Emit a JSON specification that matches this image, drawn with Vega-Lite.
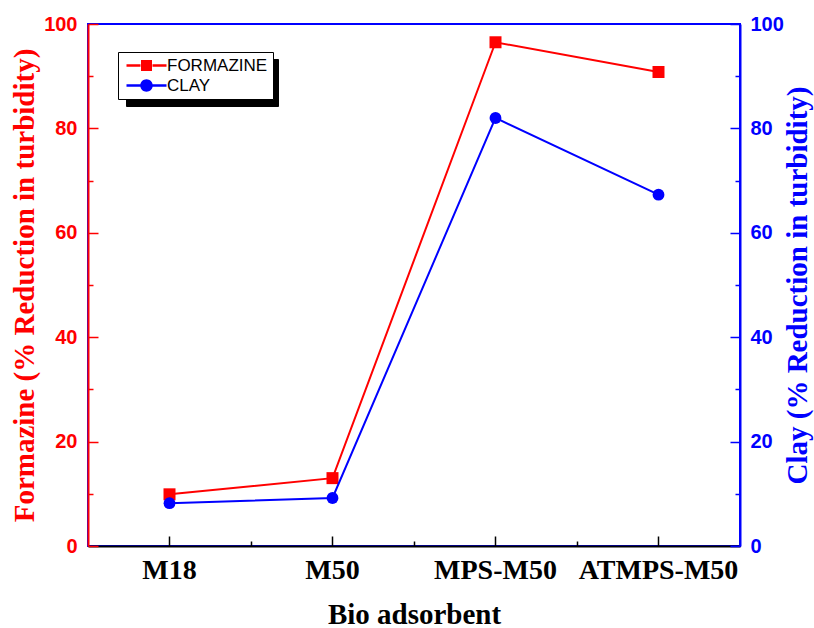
{
  "$schema": "https://vega.github.io/schema/vega-lite/v6.json",
  "width": 652,
  "height": 522,
  "autosize": {"type": "none"},
  "padding": {"left": 88, "top": 24, "right": 74, "bottom": 82},
  "background": "white",
  "config": {
    "view": {"stroke": "#0000ff", "strokeWidth": 2},
    "axis": {"grid": false}
  },
  "data": {
    "values": [
      {"adsorbent": "M18", "series": "FORMAZINE", "value": 9.9},
      {"adsorbent": "M50", "series": "FORMAZINE", "value": 13.0},
      {"adsorbent": "MPS-M50", "series": "FORMAZINE", "value": 96.5},
      {"adsorbent": "ATMPS-M50", "series": "FORMAZINE", "value": 90.8},
      {"adsorbent": "M18", "series": "CLAY", "value": 8.2},
      {"adsorbent": "M50", "series": "CLAY", "value": 9.2},
      {"adsorbent": "MPS-M50", "series": "CLAY", "value": 82.0},
      {"adsorbent": "ATMPS-M50", "series": "CLAY", "value": 67.3}
    ]
  },
  "layer": [
    {
      "transform": [{"filter": "datum.series === 'FORMAZINE'"}],
      "encoding": {
        "x": {
          "field": "adsorbent", "type": "nominal", "sort": null,
          "scale": {"type": "band", "paddingInner": 0, "paddingOuter": 0},
          "axis": {
            "orient": "bottom",
            "title": "Bio adsorbent",
            "titleFont": "Liberation Serif", "titleFontSize": 29, "titleFontWeight": "bold", "titleColor": "black",
            "titlePadding": 16,
            "labelFont": "Liberation Serif", "labelFontSize": 28, "labelFontWeight": "bold", "labelColor": "black",
            "labelAngle": 0, "labelPadding": 20,
            "domainColor": "black", "domainWidth": 2,
            "tickColor": "black", "tickWidth": 1.5, "tickSize": -10
          }
        },
        "y": {
          "field": "value", "type": "quantitative",
          "scale": {"domain": [0, 100], "nice": false},
          "axis": {
            "orient": "left",
            "values": [0, 10, 20, 30, 40, 50, 60, 70, 80, 90, 100],
            "labelExpr": "datum.value % 20 === 0 ? datum.label : ''",
            "title": "Formazine (% Reduction in turbidity)",
            "titleFont": "Liberation Serif", "titleFontSize": 29, "titleFontWeight": "bold", "titleColor": "#ff0000",
            "titlePadding": 4,
            "labelFont": "Liberation Sans", "labelFontSize": 20, "labelFontWeight": "bold", "labelColor": "#ff0000",
            "labelPadding": 21,
            "domainColor": "#ff0000", "domainWidth": 2,
            "tickColor": "#ff0000", "tickWidth": 1.5,
            "tickSize": {"condition": {"test": "datum.value % 20 !== 0", "value": -5}, "value": -10}
          }
        }
      },
      "layer": [
        {"mark": {"type": "line", "color": "#ff0000", "strokeWidth": 2}},
        {"mark": {"type": "point", "filled": true, "opacity": 1, "color": "#ff0000", "shape": "square", "size": 144}}
      ]
    },
    {
      "transform": [{"filter": "datum.series === 'CLAY'"}],
      "encoding": {
        "x": {
          "field": "adsorbent", "type": "nominal", "sort": null,
          "scale": {"type": "band", "paddingInner": 0, "paddingOuter": 0},
          "axis": {
            "orient": "bottom",
            "title": null, "labels": false, "domain": false,
            "bandPosition": 0,
            "tickSize": -5, "tickWidth": 1.5,
            "tickColor": {"condition": {"test": "datum.value === 'M18'", "value": "transparent"}, "value": "black"}
          }
        },
        "y": {
          "field": "value", "type": "quantitative",
          "scale": {"domain": [0, 100], "nice": false},
          "axis": {
            "orient": "right",
            "values": [0, 10, 20, 30, 40, 50, 60, 70, 80, 90, 100],
            "labelExpr": "datum.value % 20 === 0 ? datum.label : ''",
            "title": "Clay (% Reduction in turbidity)",
            "titleFont": "Liberation Serif", "titleFontSize": 29, "titleFontWeight": "bold", "titleColor": "#0000ff",
            "titleAngle": 270, "titlePadding": 29,
            "labelFont": "Liberation Sans", "labelFontSize": 20, "labelFontWeight": "bold", "labelColor": "#0000ff",
            "labelPadding": 20,
            "domainColor": "#0000ff", "domainWidth": 2,
            "tickColor": "#0000ff", "tickWidth": 1.5,
            "tickSize": {"condition": {"test": "datum.value % 20 !== 0", "value": -5}, "value": -10}
          }
        }
      },
      "layer": [
        {"mark": {"type": "line", "color": "#0000ff", "strokeWidth": 2}},
        {"mark": {"type": "point", "filled": true, "opacity": 1, "color": "#0000ff", "shape": "circle", "size": 140}}
      ]
    },
    {
      "mark": {"type": "point", "filled": true, "size": 0, "opacity": 1},
      "encoding": {
        "color": {
          "field": "series", "type": "nominal",
          "scale": {"domain": ["FORMAZINE", "CLAY"], "range": ["#ff0000", "#0000ff"]},
          "legend": {
            "title": null, "orient": "none", "legendX": 30, "legendY": 28, "zindex": 2,
            "strokeColor": "black", "fillColor": "white", "padding": 5,
            "symbolSize": 100, "symbolStrokeWidth": 0, "symbolOpacity": 1,
            "labelFont": "Liberation Sans", "labelFontSize": 17, "labelColor": "black",
            "labelOffset": 27, "rowPadding": 2
          }
        },
        "shape": {
          "field": "series", "type": "nominal",
          "scale": {
            "domain": ["FORMAZINE", "CLAY"],
            "range": [
              "M-1,-0.25H1.8V0.25H-1Z M4.2,-0.25H7V0.25H4.2Z M1.9,-1.1H4.1V1.1H1.9Z",
              "M-1,-0.25H1.8V0.25H-1Z M4.2,-0.25H7V0.25H4.2Z M4.25,0A1.25,1.25 0 1,1 1.75,0A1.25,1.25 0 1,1 4.25,0Z"
            ]
          }
        }
      }
    },
    {
      "mark": {"type": "point", "filled": true, "size": 0, "opacity": 1, "color": "black"},
      "encoding": {
        "opacity": {
          "field": "series", "type": "nominal",
          "scale": {"domain": ["CLAY", "FORMAZINE"], "range": [1, 1]},
          "legend": {
            "title": null, "orient": "none", "legendX": 38, "legendY": 35, "zindex": 1,
            "strokeColor": "black", "fillColor": "black", "padding": 5,
            "symbolSize": 289, "symbolStrokeWidth": 0, "symbolFillColor": "black",
            "labelExpr": "''",
            "labelFont": "Liberation Sans", "labelFontSize": 17, "labelColor": "black",
            "labelOffset": 125, "rowPadding": 2
          }
        }
      }
    }
  ],
  "resolve": {"scale": {"y": "independent"}, "axis": {"x": "independent"}}
}
